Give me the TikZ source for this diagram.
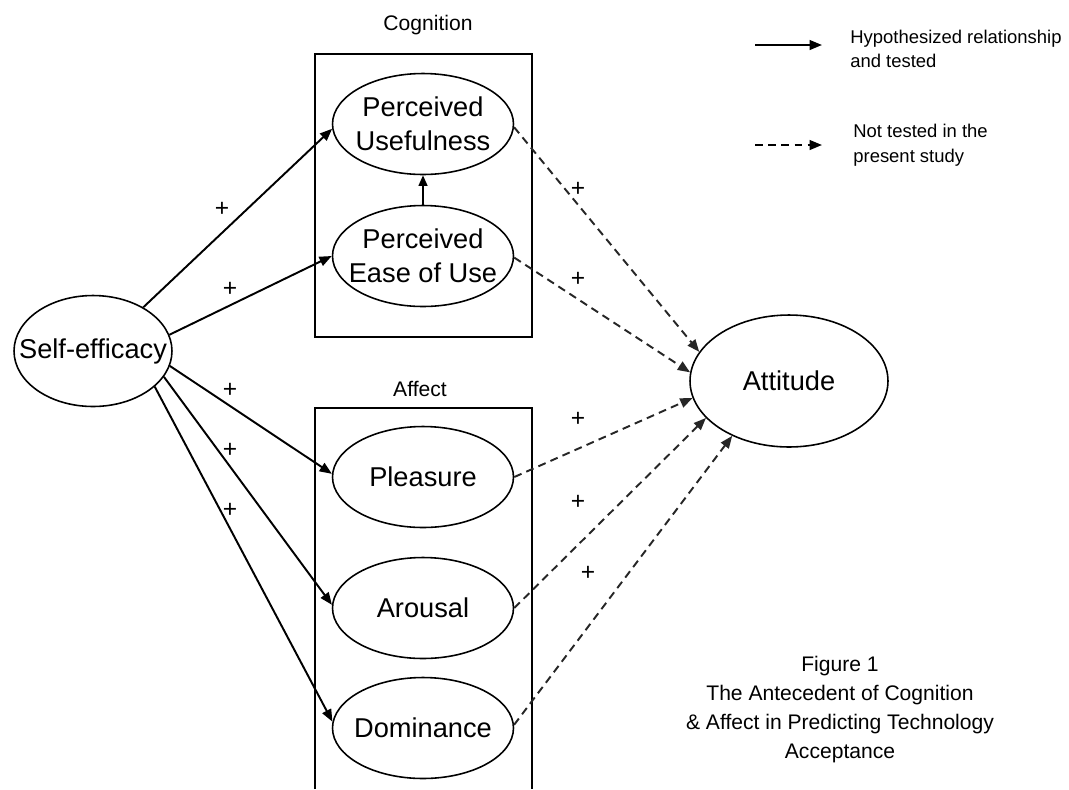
\documentclass[tikz,border=0pt]{standalone}
\usepackage{fontspec}
\setmainfont{Liberation Sans}
\usetikzlibrary{arrows.meta,shapes.geometric}
\begin{document}
\begin{tikzpicture}[x=0.02cm,y=-0.02cm,
  cons/.style={ellipse,draw,line width=0.9pt,inner sep=0pt,minimum width=3.62cm,minimum height=2.02cm},
  lab/.style={align=center,inner sep=0pt,font=\fontsize{15.5}{19.5}\selectfont},
  solidarr/.style={line width=1.1pt,-{Triangle[length=7pt,width=5.5pt]}},
  dasharr/.style={line width=1.1pt,black!85,dash pattern=on 4.5pt off 3pt,-{Triangle[length=7pt,width=5.5pt]}},
  plus/.style={inner sep=0pt,font=\fontsize{14}{14}\selectfont},
  grp/.style={line width=1pt},
  small/.style={inner sep=0pt,font=\fontsize{12}{14}\selectfont},
  legtext/.style={inner sep=0pt,align=left,anchor=west,font=\fontsize{10.5}{14}\selectfont}]
\useasboundingbox (0,0) rectangle (1069,789);

% group boxes
\draw[grp] (315,54) rectangle (532,337);
\draw[grp] (315,789) -- (315,408) -- (532,408) -- (532,789);
\node[small] (cogt) at (428,25) {Cognition};
\node[small] (afft) at (420,389) {Affect};

% constructs
\node[cons,minimum width=3.16cm,minimum height=2.22cm,label={[lab]center:Self-efficacy}] (se) at (93,351) {};
\node[cons,label={[lab]center:Perceived\\Usefulness}] (pu) at (423,124) {};
\node[cons,label={[lab]center:Perceived\\Ease of Use}] (peou) at (423,256) {};
\node[cons,label={[lab]center:Pleasure}] (ple) at (423,477) {};
\node[cons,label={[lab]center:Arousal}] (aro) at (423,608) {};
\node[cons,label={[lab]center:Dominance}] (dom) at (423,728) {};
\node[cons,minimum width=3.96cm,minimum height=2.64cm,label={[lab]center:Attitude}] (att) at (789,381) {};

% hypothesized paths
\draw[solidarr] (se.41) -- (pu.183);
\draw[solidarr] (se.12) -- (peou.180);
\draw[solidarr] (se.-11) -- (ple.178);
\draw[solidarr] (se.-20) -- (aro.178);
\draw[solidarr] (se.-30) -- (dom.176);
\draw[line width=1pt,-{Triangle[length=6pt,width=5pt]}] (peou.north) -- (pu.south);

% not tested paths
\draw[dasharr] (pu.-2) -- (att.162);
\draw[dasharr] (peou.-1) -- (att.175);
\draw[dasharr] (ple.east) -- (att.190);
\draw[dasharr] (aro.east) -- (att.204);
\draw[dasharr] (dom.2) -- (att.224);

% plus signs
\node[plus] (p1) at (222,209) {+};
\node[plus] (p2) at (230,289) {+};
\node[plus] (p3) at (230,390) {+};
\node[plus] (p4) at (230,450) {+};
\node[plus] (p5) at (230,510) {+};
\node[plus] (q1) at (578,189) {+};
\node[plus] (q2) at (578,279) {+};
\node[plus] (q3) at (578,419) {+};
\node[plus] (q4) at (578,502) {+};
\node[plus] (q5) at (588,573) {+};

% legend
\coordinate (la) at (755,45);
\coordinate (lb) at (822,45);
\draw[solidarr] (la) -- (lb);
\node[legtext] (lt1) at (850,49) {Hypothesized relationship\\and tested};
\coordinate (lc) at (755,145);
\coordinate (ld) at (822,145);
\draw[dasharr,black] (lc) -- (ld);
\node[legtext] (lt2) at (853,145) {Not tested in the\\present study};

% caption
\node[align=center,inner sep=0pt,font=\fontsize{12}{16.5}\selectfont] (cap) at (840,710)
  {Figure 1\\The Antecedent of Cognition\\\& Affect in Predicting Technology\\Acceptance};
\end{tikzpicture}
\end{document}
